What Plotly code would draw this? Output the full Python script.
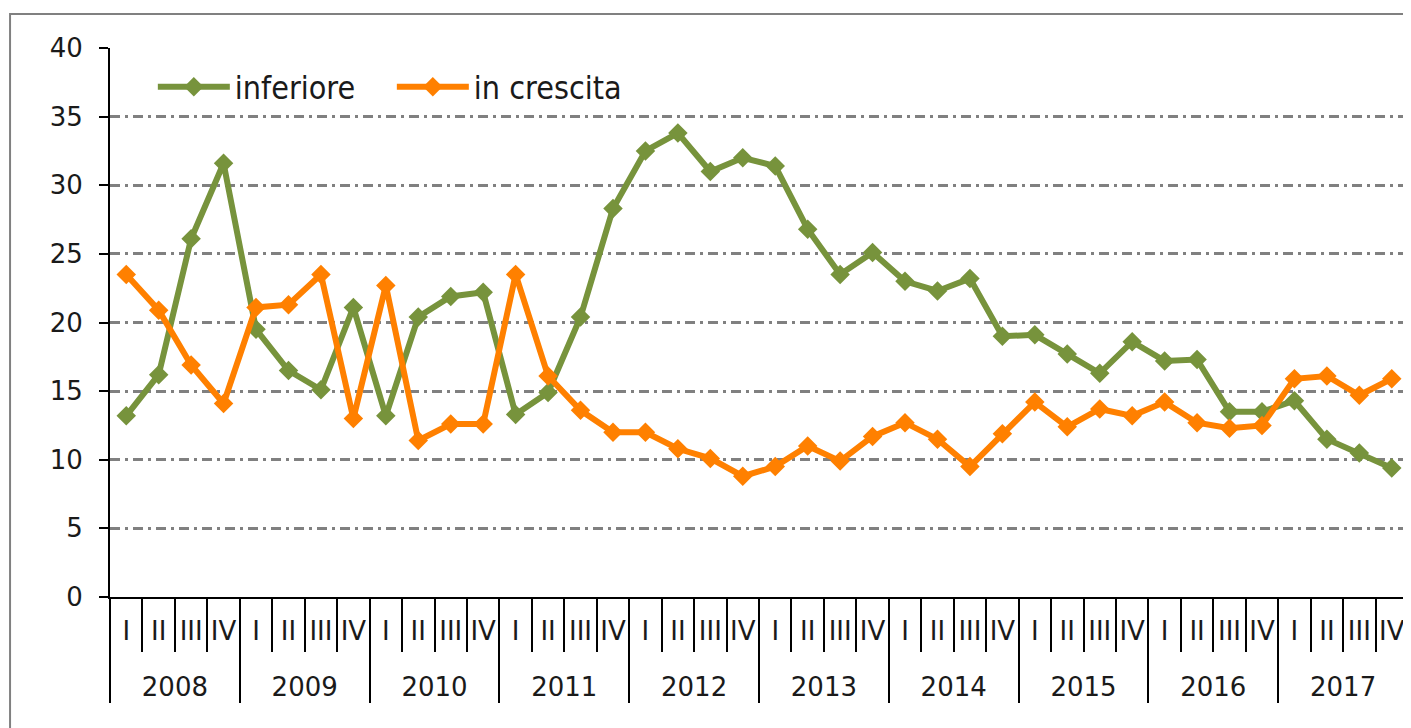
import plotly.graph_objects as go

years = ["2008", "2009", "2010", "2011", "2012", "2013", "2014", "2015", "2016", "2017"]
quarters = ["I", "II", "III", "IV"]

inferiore = [13.2, 16.2, 26.1, 31.6,
             19.5, 16.5, 15.1, 21.1,
             13.2, 20.4, 21.9, 22.2,
             13.3, 14.9, 20.4, 28.3,
             32.5, 33.8, 31.0, 32.0,
             31.4, 26.8, 23.5, 25.1,
             23.0, 22.3, 23.2, 19.0,
             19.1, 17.7, 16.3, 18.6,
             17.2, 17.3, 13.5, 13.5,
             14.3, 11.5, 10.5, 9.4]

in_crescita = [23.5, 20.9, 16.9, 14.1,
               21.1, 21.3, 23.5, 13.0,
               22.7, 11.4, 12.6, 12.6,
               23.5, 16.1, 13.6, 12.0,
               12.0, 10.8, 10.1, 8.8,
               9.5, 11.0, 9.9, 11.7,
               12.7, 11.5, 9.5, 11.9,
               14.2, 12.4, 13.7, 13.2,
               14.2, 12.7, 12.3, 12.5,
               15.9, 16.1, 14.7, 15.9]

y_ticks = [0, 5, 10, 15, 20, 25, 30, 35, 40]

# year labels sit one line below the quarter labels (leading line break)
x_years = ["<br>" + y for y in years for q in quarters]
x_quarters = [q for y in years for q in quarters]

GREEN = "#77933C"
ORANGE = "#FF8000"
SANS = "DejaVu Sans"
SANS_COND = "DejaVu Sans Condensed, DejaVu Sans"

fig = go.Figure()
fig.add_trace(go.Scatter(
    x=[x_years, x_quarters], y=inferiore, name="inferiore",
    mode="lines+markers",
    line=dict(color=GREEN, width=6),
    marker=dict(symbol="diamond", size=15, color=GREEN),
))
fig.add_trace(go.Scatter(
    x=[x_years, x_quarters], y=in_crescita, name="in crescita",
    mode="lines+markers",
    line=dict(color=ORANGE, width=6),
    marker=dict(symbol="diamond", size=15, color=ORANGE),
))

fig.update_layout(
    width=1403, height=720,
    margin=dict(l=102, r=3, t=40, b=131),
    paper_bgcolor="white", plot_bgcolor="white",
    font=dict(family=SANS, size=26, color="#1a1a1a"),
    showlegend=True,
    legend=dict(
        orientation="h", x=0.033, y=0.929, xanchor="left", yanchor="middle",
        bgcolor="rgba(0,0,0,0)",
        font=dict(size=32, family=SANS_COND),
        itemwidth=72, entrywidth=152,
    ),
    shapes=[dict(
        type="rect", xref="paper", yref="paper",
        x0=-0.077, x1=1.1, y0=-0.3, y1=1.062,
        line=dict(color="#808080", width=2), fillcolor="rgba(0,0,0,0)", layer="below",
    )],
)

fig.update_yaxes(
    range=[0, 40], tickvals=y_ticks, ticktext=[str(v) for v in y_ticks],
    showgrid=True, gridcolor="#808080", gridwidth=2.5, griddash="10px,5px,3px,5px",
    showline=True, linecolor="black", linewidth=2,
    ticks="outside", ticklen=9, tickwidth=2, tickcolor="black",
    ticklabelstandoff=11,
    tickfont=dict(size=26, family=SANS),
    zeroline=False,
)

fig.update_xaxes(
    type="multicategory", range=[-0.5, 39.5],
    showline=True, linecolor="black", linewidth=2,
    ticks="outside", ticklen=53, tickwidth=2, tickcolor="black",
    showdividers=True, dividercolor="black", dividerwidth=2,
    tickangle=0, ticklabelstandoff=10,
    tickfont=dict(size=26, family=SANS),
    showgrid=False,
)

fig.write_html("out.html")
